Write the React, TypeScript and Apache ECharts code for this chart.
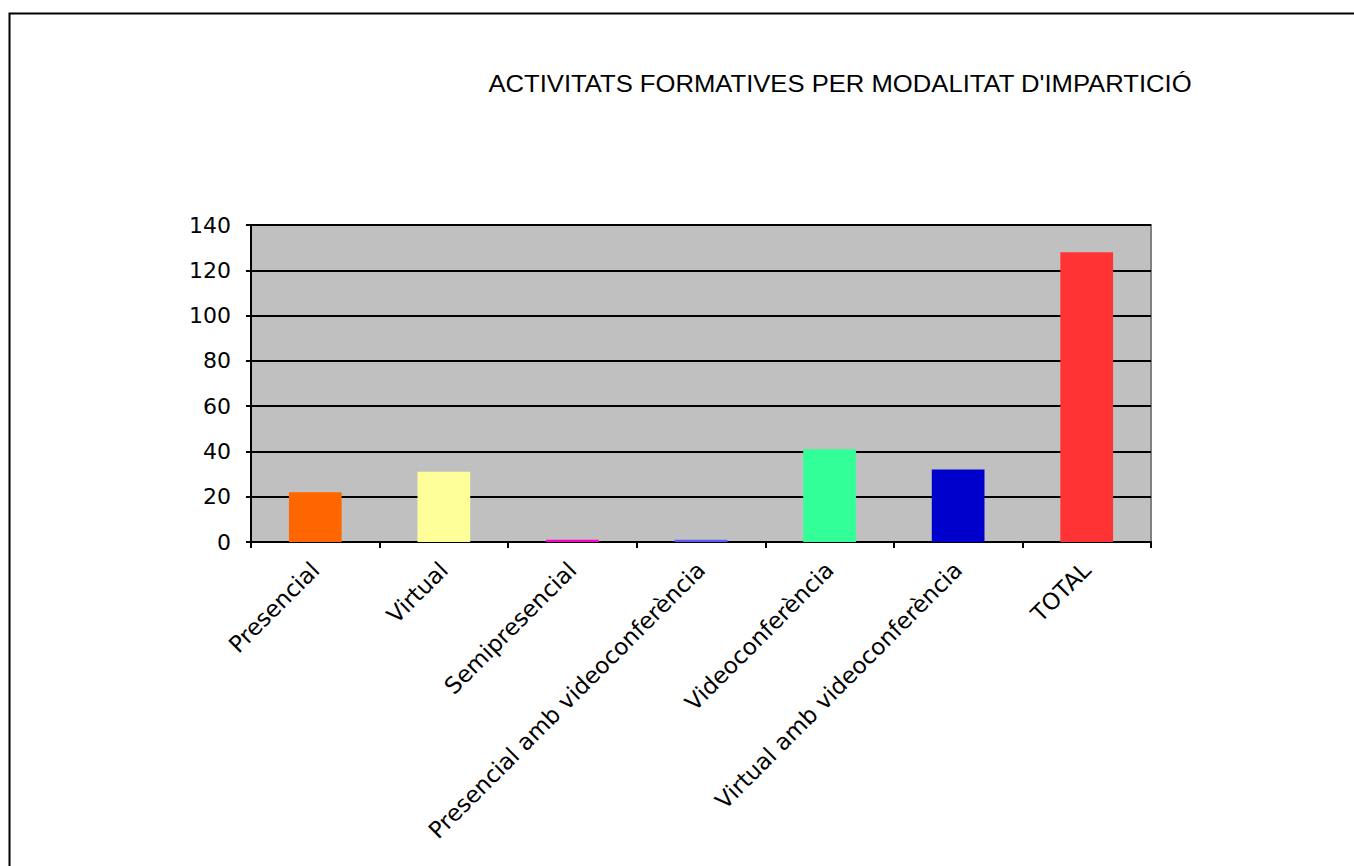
import React, { useEffect, useRef } from "react";
import * as echarts from "echarts";

const categories = [
  "Presencial",
  "Virtual",
  "Semipresencial",
  "Presencial amb videoconferència",
  "Videoconferència",
  "Virtual amb videoconferència",
  "TOTAL",
];
const values = [22, 31, 1, 1, 41, 32, 128];
const barColors = ["#FF6600", "#FFFF99", "#FF00CC", "#5A5AFF", "#33FF99", "#0000CC", "#FF3333"];
const titleText = "ACTIVITATS FORMATIVES PER MODALITAT D'IMPARTICIÓ";

export default function App() {
  const ref = useRef<HTMLDivElement>(null);
  useEffect(() => {
    if (!ref.current) return;
    const chart = echarts.init(ref.current, null, { renderer: "svg" });
    const font = "'Liberation Sans', Arial, sans-serif";
    const labelFont = "'DejaVu Sans', sans-serif";
    chart.setOption({
      animation: false,
      backgroundColor: "#ffffff",
      graphic: [
        {
          type: "rect",
          shape: { x: 9.5, y: 13.5, width: 1500, height: 1000 },
          style: { fill: "none", stroke: "#000", lineWidth: 2 },
          z: 100,
        },
        {
          type: "text",
          x: 840,
          y: 84,
          scaleX: 1.115,
          style: {
            text: titleText,
            x: 0,
            y: 0,
            align: "center",
            verticalAlign: "middle",
            fontFamily: font,
            fontSize: 23,
            fill: "#000",
          },
        },
      ],
      grid: {
        left: 251,
        right: 203,
        top: 225,
        bottom: 324,
        show: true,
        backgroundColor: "#C0C0C0",
        borderColor: "#808080",
        borderWidth: 2,
      },
      xAxis: {
        type: "category",
        data: categories,
        axisLine: { lineStyle: { color: "#000", width: 2 } },
        axisTick: { show: true, length: 6, lineStyle: { color: "#000", width: 2 } },
        axisLabel: {
          rotate: 45,
          interval: 0,
          margin: 24,
          color: "#000",
          fontFamily: labelFont,
          fontSize: 23,
        },
      },
      yAxis: {
        type: "value",
        min: 0,
        max: 140,
        interval: 20,
        axisLine: { show: true, lineStyle: { color: "#000", width: 2 } },
        axisTick: { show: true, length: 5, lineStyle: { color: "#000", width: 2 } },
        splitLine: { show: true, lineStyle: { color: "#000", width: 2 } },
        axisLabel: { color: "#000", fontFamily: labelFont, fontSize: 22, margin: 20 },
      },
      series: [
        {
          type: "bar",
          data: values.map((v, i) => ({ value: v, itemStyle: { color: barColors[i] } })),
          barWidth: "41%",
        },
      ],
    });
    return () => chart.dispose();
  }, []);
  return (
    <div
      ref={ref}
      style={{ position: "fixed", left: 0, top: 0, width: 1354, height: 866 }}
    />
  );
}
